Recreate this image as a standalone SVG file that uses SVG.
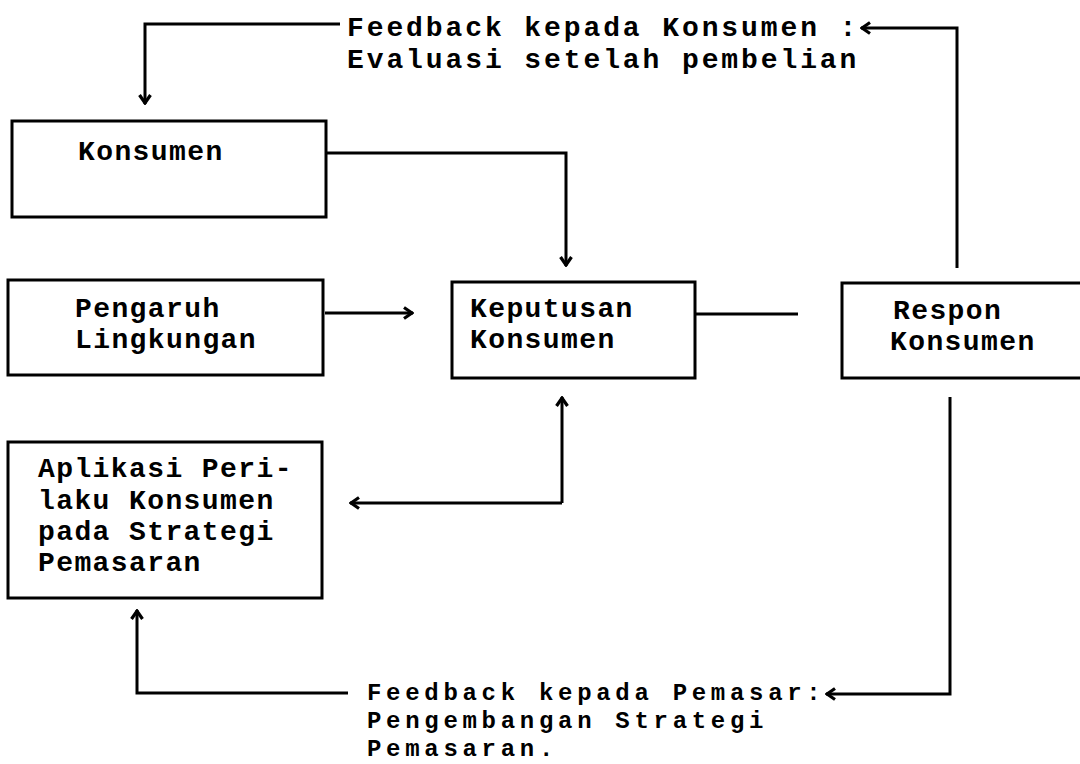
<svg xmlns="http://www.w3.org/2000/svg" width="1080" height="764" viewBox="0 0 1080 764">
<style>
.box{fill:none;stroke:#000;stroke-width:3}
.ln{fill:none;stroke:#000;stroke-width:3;stroke-linejoin:miter}
.t{font-family:"Liberation Mono","Courier New",monospace;font-weight:bold;font-size:28px;letter-spacing:1.4px;fill:#000}
.f{letter-spacing:2.9px}
.p{font-size:24px;letter-spacing:4.7px}
</style>
<defs>
<marker id="ah" viewBox="0 0 14 14" refX="13" refY="7" markerWidth="14" markerHeight="14" markerUnits="userSpaceOnUse" orient="auto">
<path d="M4,1.5 L12,7 L4,12.5" fill="none" stroke="#000" stroke-width="3.2"/>
</marker>
</defs>
<rect width="1080" height="764" fill="#fff"/>
<g id="connectors">
<path class="ln" d="M340,24 H145 V104" marker-end="url(#ah)"/>
<path class="ln" d="M957,268 V28 H861" marker-end="url(#ah)"/>
<path class="ln" d="M326,153 H566 V266" marker-end="url(#ah)"/>
<path class="ln" d="M325,313 H413" marker-end="url(#ah)"/>
<path class="ln" d="M695,314 H798"/>
<path class="ln" d="M562,503 H350" marker-end="url(#ah)"/>
<path class="ln" d="M562,503 V397" marker-end="url(#ah)"/>
<path class="ln" d="M950,397 V694 H826" marker-end="url(#ah)"/>
<path class="ln" d="M348,693 H137 V610" marker-end="url(#ah)"/>
</g>
<g id="fb-konsumen">
<text class="t f" x="347" y="36">Feedback kepada Konsumen :</text>
<text class="t f" x="347" y="68">Evaluasi setelah pembelian</text>
</g>
<g id="konsumen">
<rect class="box" x="12" y="121" width="314" height="96"/>
<text class="t" x="78" y="160">Konsumen</text>
</g>
<g id="pengaruh">
<rect class="box" x="8" y="280" width="315" height="95"/>
<text class="t" x="75" y="317">Pengaruh</text>
<text class="t" x="75" y="348">Lingkungan</text>
</g>
<g id="keputusan">
<rect class="box" x="452" y="282" width="243" height="96"/>
<text class="t" x="470" y="317">Keputusan</text>
<text class="t" x="470" y="348">Konsumen</text>
</g>
<g id="respon">
<rect class="box" x="842" y="283" width="250" height="95"/>
<text class="t" x="893" y="319">Respon</text>
<text class="t" x="890" y="350">Konsumen</text>
</g>
<g id="aplikasi">
<rect class="box" x="8" y="442" width="314" height="156"/>
<text class="t" x="38" y="477">Aplikasi Peri-</text>
<text class="t" x="38" y="509">laku Konsumen</text>
<text class="t" x="38" y="540">pada Strategi</text>
<text class="t" x="38" y="571">Pemasaran</text>
</g>
<g id="fb-pemasar">
<text class="t p" x="367" y="700">Feedback kepada Pemasar:</text>
<text class="t p" x="367" y="728">Pengembangan Strategi</text>
<text class="t p" x="367" y="756">Pemasaran.</text>
</g>
</svg>
